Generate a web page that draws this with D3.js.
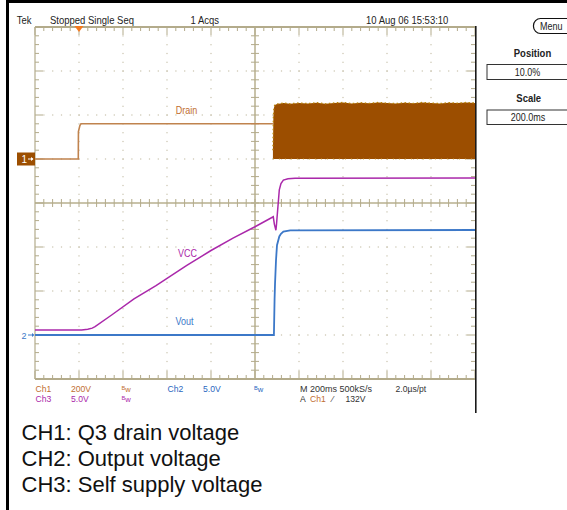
<!DOCTYPE html>
<html><head><meta charset="utf-8">
<script src="https://cdn.jsdelivr.net/npm/d3@7/dist/d3.min.js"></script>
<style>html,body{margin:0;padding:0;background:#fff;} svg{display:block;}</style>
</head><body>
<svg id="c" width="567" height="510"></svg>
<script>
// ---------------- data ----------------
const timeDomain = [-0.2, 1.8];            // s : 200 ms/div, 10 div, trigger at 10 %
const channelNames = ["Ch1", "Ch2", "Ch3"];
const voltsPerDiv = [200, 5, 5];           // V/div
const groundDiv = [1, -3, -3];             // ground offset in divisions from centre

// CH1 : Q3 drain voltage (V)
const drainT = [-0.2, -0.0032, -0.0026, 0.004, 0.009, 0.8815];
const drainV = [0, 0, 125, 152, 160, 160];
// CH1 switching burst : upper envelope (V), lower envelope is 0 V
const burstT = [0.8815, 0.8835, 0.886, 0.89, 0.9, 0.93, 0.96, 1.0, 1.04, 1.08, 1.12, 1.16, 1.2, 1.24, 1.28,
                1.32, 1.36, 1.4, 1.44, 1.48, 1.52, 1.56, 1.6, 1.64, 1.68, 1.72, 1.76, 1.8];
const burstTop = [40, 190, 232, 246, 250, 254, 251, 255, 252, 256, 251, 255, 257, 252, 256,
                  253, 257, 254, 252, 256, 253, 257, 254, 252, 256, 254, 257, 255];
// CH3 : self supply voltage VCC (V)
const vccT = [-0.2, 0.012, 0.04, 0.06, 0.073, 0.15, 0.25, 0.35, 0.49, 0.6, 0.7, 0.8, 0.883,
              0.888, 0.895, 0.8975, 0.903, 0.9105, 0.918, 0.929, 0.95, 0.982, 1.8];
const vccV = [0.57, 0.57, 0.65, 0.78, 0.94, 2.3, 4.1, 5.6, 7.9, 9.6, 11.0, 12.3, 13.44,
              12.6, 11.9, 12.5, 14.2, 16.5, 17.2, 17.6, 17.75, 17.8, 17.85];
// CH2 : output voltage Vout (V)
const voutT = [-0.2, 0.886, 0.889, 0.891, 0.8955, 0.9, 0.9105, 0.918, 0.929, 0.96, 1.8];
const voutV = [0, 0, 4.1, 5.8, 8.5, 10.2, 11.2, 11.5, 11.75, 11.9, 11.93];

const traceLabels = ["Drain", "Vout", "VCC"];
const headerTexts = ["Tek", "Stopped  Single Seq", "1 Acqs", "10 Aug 06 15:53:10"];
const menuTexts = ["Menu", "Position", "10.0%", "Scale", "200.0ms"];
const footerRow1 = ["Ch1", "200V", "Ch2", "5.0V", "M 200ms 500kS/s", "2.0\u00b5s/pt"];
const footerRow2 = ["Ch3", "5.0V", "A", "Ch1", "\u2044", "132V"];
const captions = ["CH1: Q3 drain voltage", "CH2: Output voltage", "CH3: Self supply voltage"];

// ---------------- layout ----------------
const svg = d3.select("#c");
const X0 = 35, X1 = 475, Y0 = 27, Y1 = 379;
const x = d3.scaleLinear().domain(timeDomain).range([X0, X1]);
const xg = d3.scaleLinear().domain([0, 10]).range([X0, X1]);
const yg = d3.scaleLinear().domain([0, 8]).range([Y0, Y1]);
const yCh = voltsPerDiv.map((v, i) => d3.scaleLinear()
  .domain([(-4 - groundDiv[i]) * v, (4 - groundDiv[i]) * v]).range([Y1, Y0]));

const GRID = "#b3ab8b", DOT = "#bdb69c";
const C_BROWN = "#9c4e00", C_DRAIN = "#c0834e", C_LBL1 = "#bf6e30";
const C_MAG = "#aa28aa", C_BLUE = "#3c78c8";
const FONT = "'Liberation Sans', Arial, Helvetica, sans-serif";

// frame
svg.append("rect").attr("x", 6).attr("y", 0).attr("width", 561).attr("height", 3).attr("fill", "#000");
svg.append("rect").attr("x", 6).attr("y", 0).attr("width", 3).attr("height", 510).attr("fill", "#000");

// ---------------- graticule ----------------
const g = svg.append("g");
const minorX = d3.range(0, 51).map(i => i / 5);
const minorY = d3.range(0, 41).map(i => i / 5);
for (let k = 1; k < 10; k++) {
  if (k === 5) continue;
  g.selectAll(null).data(minorY.filter(v => v > 0 && v < 8)).enter().append("rect")
    .attr("x", xg(k) - 0.5).attr("y", d => yg(d) - 0.5).attr("width", 1).attr("height", 1.2).attr("fill", DOT);
}
for (let k = 1; k < 8; k++) {
  if (k === 4) continue;
  g.selectAll(null).data(minorX.filter(v => v > 0 && v < 10)).enter().append("rect")
    .attr("x", d => xg(d) - 0.5).attr("y", yg(k) - 0.5).attr("width", 1.2).attr("height", 1).attr("fill", DOT);
}
g.append("line").attr("x1", X0).attr("x2", X1).attr("y1", yg(4)).attr("y2", yg(4)).attr("stroke", "#c9c3aa").attr("stroke-width", 2);
g.append("line").attr("x1", xg(5)).attr("x2", xg(5)).attr("y1", Y0).attr("y2", Y1).attr("stroke", "#c9c3aa").attr("stroke-width", 2);
g.selectAll(null).data(minorX.filter(v => v > 0 && v < 10)).enter().append("line")
  .attr("x1", d => xg(d)).attr("x2", d => xg(d)).attr("y1", yg(4) - 4).attr("y2", yg(4) + 4).attr("stroke", GRID);
g.selectAll(null).data(minorY.filter(v => v > 0 && v < 8)).enter().append("line")
  .attr("y1", d => yg(d)).attr("y2", d => yg(d)).attr("x1", xg(5) - 4).attr("x2", xg(5) + 4).attr("stroke", GRID);
const tl = d => (Math.abs(d - Math.round(d)) < 1e-6 ? 8 : 4);
g.selectAll(null).data(minorX).enter().append("line")
  .attr("x1", d => xg(d)).attr("x2", d => xg(d)).attr("y1", Y0).attr("y2", d => Y0 + tl(d)).attr("stroke", GRID);
g.selectAll(null).data(minorX).enter().append("line")
  .attr("x1", d => xg(d)).attr("x2", d => xg(d)).attr("y1", Y1).attr("y2", d => Y1 - tl(d)).attr("stroke", GRID);
g.selectAll(null).data(minorY).enter().append("line")
  .attr("y1", d => yg(d)).attr("y2", d => yg(d)).attr("x1", X0).attr("x2", d => X0 + tl(d)).attr("stroke", GRID);
g.selectAll(null).data(minorY).enter().append("line")
  .attr("y1", d => yg(d)).attr("y2", d => yg(d)).attr("x1", X1).attr("x2", d => X1 - tl(d)).attr("stroke", GRID);
g.append("line").attr("x1", X0).attr("x2", X1).attr("y1", Y0).attr("y2", Y0).attr("stroke", GRID).attr("stroke-width", 2);
g.append("line").attr("x1", X0).attr("x2", X1).attr("y1", Y1).attr("y2", Y1).attr("stroke", GRID).attr("stroke-width", 2);
g.append("line").attr("x1", X0).attr("x2", X0).attr("y1", Y0).attr("y2", Y1).attr("stroke", GRID).attr("stroke-width", 1.2);
svg.append("line").attr("x1", X1 + 0.8).attr("x2", X1 + 0.8).attr("y1", Y0 - 1).attr("y2", 413).attr("stroke", "#1a1a1a").attr("stroke-width", 1.6);

// ---------------- traces ----------------
const zip = (a, b) => a.map((v, i) => [v, b[i]]);
const line = ys => d3.line().x(d => x(d[0])).y(d => ys(d[1]));

svg.append("path").datum(zip(drainT, drainV)).attr("d", line(yCh[0]))
  .attr("fill", "none").attr("stroke", C_DRAIN).attr("stroke-width", 1.6);
const burst = zip(burstT, burstTop);
svg.append("path").datum(burst)
  .attr("d", d3.area().x(d => x(d[0])).y0(yCh[0](0)).y1(d => yCh[0](d[1])))
  .attr("fill", C_BROWN);
svg.append("path").datum(burst).attr("d", line(yCh[0]))
  .attr("fill", "none").attr("stroke", "#b8860b").attr("stroke-width", 1.3).attr("stroke-dasharray", "1.5,2.5");
svg.append("line").attr("x1", x(burstT[0])).attr("x2", x(1.8)).attr("y1", yCh[0](0)).attr("y2", yCh[0](0))
  .attr("stroke", "#c8a040").attr("stroke-width", 1).attr("stroke-dasharray", "1,5");

svg.append("path").datum(zip(voutT, voutV)).attr("d", line(yCh[1]))
  .attr("fill", "none").attr("stroke", C_BLUE).attr("stroke-width", 1.8);
svg.append("path").datum(zip(vccT, vccV)).attr("d", line(yCh[2]))
  .attr("fill", "none").attr("stroke", C_MAG).attr("stroke-width", 1.5);

// ---------------- text helper ----------------
function stext(sel, px, py, str, opt) {
  const o = Object.assign({ size: 10, sx: 0.92, fill: "#222", anchor: "start", weight: "normal" }, opt || {});
  return sel.append("text")
    .attr("transform", `translate(${px},${py}) scale(${o.sx},1)`)
    .attr("font-family", FONT).attr("font-size", o.size).attr("font-weight", o.weight)
    .attr("fill", o.fill).attr("text-anchor", o.anchor).text(str);
}

// trace labels
stext(svg, 186.5, 114, traceLabels[0], { fill: C_LBL1, anchor: "middle", sx: 0.9 });
stext(svg, 184.5, 325, traceLabels[1], { fill: C_BLUE, anchor: "middle", sx: 0.9 });
stext(svg, 187.5, 257, traceLabels[2], { fill: C_MAG, anchor: "middle", sx: 0.9 });

// ground markers
svg.append("rect").attr("x", 17).attr("y", yCh[0](0) - 6.5).attr("width", 18).attr("height", 13).attr("fill", C_BROWN);
stext(svg, 21.5, yCh[0](0) + 4, "1", { fill: "#fff", sx: 1 });
svg.append("line").attr("x1", 28).attr("x2", 33).attr("y1", yCh[0](0)).attr("y2", yCh[0](0)).attr("stroke", "#fff").attr("stroke-width", 1);
svg.append("path").attr("d", `M33.5,${yCh[0](0)} l-2.5,-2 v4 z`).attr("fill", "#fff");
stext(svg, 21.5, yCh[1](0) + 3.5, "2", { fill: C_BLUE, size: 9, sx: 1 });
svg.append("line").attr("x1", 28).attr("x2", 33).attr("y1", yCh[1](0)).attr("y2", yCh[1](0)).attr("stroke", C_BLUE).attr("stroke-width", 1);
svg.append("path").attr("d", `M34.5,${yCh[1](0)} l-2.5,-2 v4 z`).attr("fill", C_BLUE);

// trigger position marker
svg.append("path").attr("d", `M${x(0) - 4.5},${Y0 - 1} h9 l-4.5,6 z`).attr("fill", "#f47a20");

// header
stext(svg, 16.7, 24, headerTexts[0], { sx: 0.95 });
stext(svg, 50, 24, headerTexts[1], { sx: 0.95 });
stext(svg, 190.5, 24, headerTexts[2], { sx: 0.95 });
stext(svg, 366, 24, headerTexts[3], { sx: 0.95 });

// right-hand menu
svg.append("rect").attr("x", 533.5).attr("y", 18.5).attr("width", 50).attr("height", 15).attr("rx", 7)
  .attr("fill", "#fff").attr("stroke", "#111").attr("stroke-width", 1.2);
stext(svg, 540, 30, menuTexts[0], { sx: 0.9 });
stext(svg, 532.5, 56.7, menuTexts[1], { weight: "bold", anchor: "middle", sx: 0.95 });
svg.append("rect").attr("x", 487).attr("y", 64.5).attr("width", 90).attr("height", 15).attr("fill", "#fff").attr("stroke", "#333");
stext(svg, 527.5, 76, menuTexts[2], { anchor: "middle", sx: 0.9 });
stext(svg, 528.7, 102, menuTexts[3], { weight: "bold", anchor: "middle", sx: 0.95 });
svg.append("rect").attr("x", 487).attr("y", 110).attr("width", 90).attr("height", 14.5).attr("fill", "#fff").attr("stroke", "#333");
stext(svg, 528, 120.5, menuTexts[4], { anchor: "middle", sx: 0.9 });

// footer status lines
const FS = 8.6, FSX = 1.0;
function bw(px, py, fill) {
  const t = svg.append("text").attr("transform", `translate(${px},${py}) scale(0.95,1)`)
    .attr("font-family", FONT).attr("fill", fill);
  t.append("tspan").attr("font-size", 6).attr("dy", -2.5).text("B");
  t.append("tspan").attr("font-size", 8).attr("dy", 2.5).text("w");
}
const R1 = 392, R2 = 402;
const fo = (fill, sx) => ({ fill: fill, size: FS, sx: sx || FSX });
stext(svg, 35.5, R1, footerRow1[0], fo(C_LBL1));
stext(svg, 71, R1, footerRow1[1], fo(C_LBL1));
bw(121.5, R1, C_LBL1);
stext(svg, 167.5, R1, footerRow1[2], fo("#2a66c0"));
stext(svg, 203, R1, footerRow1[3], fo("#2a66c0"));
bw(254, R1, "#2a66c0");
stext(svg, 300, R1, footerRow1[4], fo("#333", 1.05));
stext(svg, 395.5, R1, footerRow1[5], fo("#333"));
stext(svg, 35.5, R2, footerRow2[0], fo(C_MAG));
stext(svg, 71, R2, footerRow2[1], fo(C_MAG));
bw(121.5, R2, C_MAG);
stext(svg, 300, R2, footerRow2[2], fo("#333"));
stext(svg, 310, R2, footerRow2[3], fo(C_LBL1));
stext(svg, 332, R2, footerRow2[4], fo("#333"));
stext(svg, 345.5, R2, footerRow2[5], fo("#333"));

// captions
captions.forEach((c, i) => {
  svg.append("text").attr("x", 21.5).attr("y", 440 + i * 26)
    .attr("font-family", FONT).attr("font-size", 22).attr("fill", "#111").text(c);
});
</script>
</body></html>
